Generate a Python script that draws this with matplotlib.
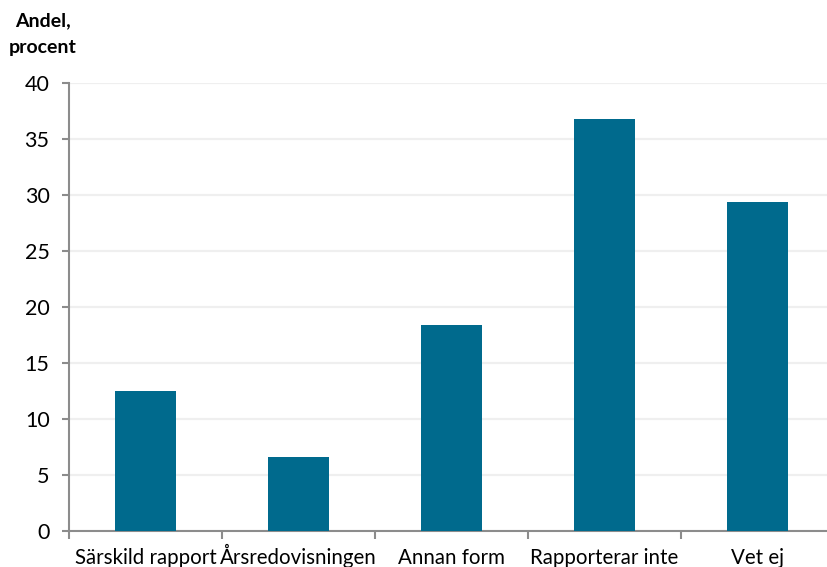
import matplotlib
matplotlib.use("Agg")
import matplotlib.pyplot as plt
import numpy as np

categories = ["Särskild rapport", "Årsredovisningen", "Annan form", "Rapporterar inte", "Vet ej"]
values = [12.5, 6.6, 18.4, 36.8, 29.4]
yticks = [0, 5, 10, 15, 20, 25, 30, 35, 40]

BAR_COLOR = "#006A8D"
GRID_COLOR = "#EFEFEF"
AXIS_COLOR = "#8C8C8C"

plt.rcParams["font.family"] = ["Lato", "DejaVu Sans"]

W, H = 827, 567
fig = plt.figure(figsize=(W / 100, H / 100), dpi=100)
# plot area runs a bit past the right edge of the figure
ax = fig.add_axes([69 / W, (H - 531) / H, 765 / W, (531 - 83) / H])

x = np.arange(len(categories))
ax.bar(x, values, width=0.4, color=BAR_COLOR, zorder=3)

ax.set_xlim(-0.5, len(categories) - 0.5)
ax.set_ylim(0, 40)
ax.set_yticks(yticks)
ax.set_yticklabels([str(t) for t in yticks], fontsize=15.5)
ax.yaxis.grid(True, color=GRID_COLOR, linewidth=1.6, zorder=0)
ax.set_axisbelow(True)

# ticks on the category boundaries, labels drawn on a common baseline
ax.set_xticks(np.arange(-0.5, len(categories) + 0.5, 1))
ax.set_xticklabels([])
ax.tick_params(axis="x", length=6, width=1.5, color=AXIS_COLOR)
ax.tick_params(axis="y", length=5, width=1.5, color=AXIS_COLOR, pad=9)
label_y = -(564 - 531) / (531 - 83)
for xi, name in zip(x, categories):
    ax.text(xi, label_y, name, transform=ax.get_xaxis_transform(),
            ha="center", va="baseline", fontsize=14.8, clip_on=False)

for side in ["top", "right"]:
    ax.spines[side].set_visible(False)
for side in ["left", "bottom"]:
    ax.spines[side].set_color(AXIS_COLOR)
    ax.spines[side].set_linewidth(1.5)

fig.text(43 / W, 1 - 21 / H, "Andel,", ha="center", va="center",
         fontsize=14, fontweight="bold")
fig.text(43 / W, 1 - 47 / H, "procent", ha="center", va="center",
         fontsize=14, fontweight="bold")

fig.savefig("out.png", dpi=100)
